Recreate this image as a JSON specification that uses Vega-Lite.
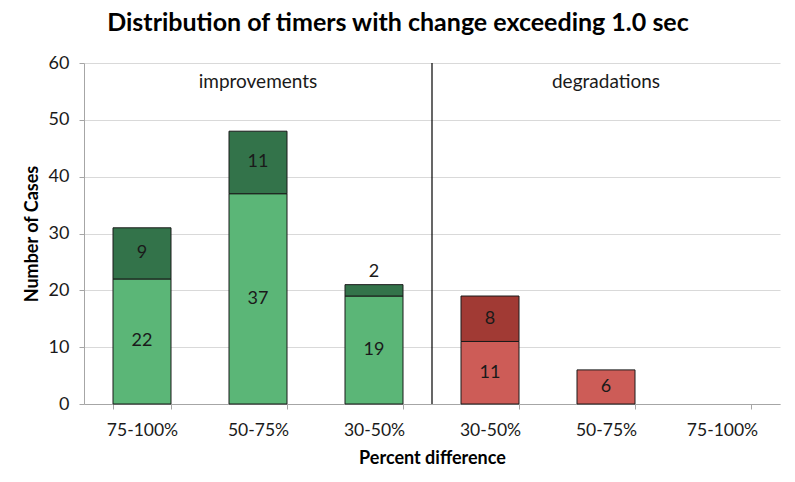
{
  "$schema": "https://vega.github.io/schema/vega-lite/v6.json",
  "width": 696,
  "height": 341,
  "autosize": "none",
  "padding": {"left": 84, "top": 63, "right": 15, "bottom": 78},
  "background": "white",
  "config": {
    "font": "Lato",
    "view": {"stroke": null}
  },
  "title": {
    "text": "Distribution of timers with change exceeding 1.0 sec",
    "fontSize": 25,
    "fontWeight": "bold",
    "color": "#000000",
    "anchor": "middle",
    "dx": -34,
    "offset": 18,
    "font": "Lato"
  },
  "datasets": {
    "bars": [
      {"cat": "1|75-100%", "part": "impr-lower", "order": 1, "value": 22},
      {"cat": "1|75-100%", "part": "impr-upper", "order": 2, "value": 9},
      {"cat": "2|50-75%", "part": "impr-lower", "order": 1, "value": 37},
      {"cat": "2|50-75%", "part": "impr-upper", "order": 2, "value": 11},
      {"cat": "3|30-50%", "part": "impr-lower", "order": 1, "value": 19},
      {"cat": "3|30-50%", "part": "impr-upper", "order": 2, "value": 2},
      {"cat": "4|30-50%", "part": "degr-lower", "order": 1, "value": 11},
      {"cat": "4|30-50%", "part": "degr-upper", "order": 2, "value": 8},
      {"cat": "5|50-75%", "part": "degr-lower", "order": 1, "value": 6}
    ],
    "groups": [
      {"cat": "2|50-75%", "name": "improvements"},
      {"cat": "5|50-75%", "name": "degradations"}
    ]
  },
  "encoding": {
    "x": {
      "field": "cat",
      "type": "nominal",
      "sort": ["1|75-100%", "2|50-75%", "3|30-50%", "4|30-50%", "5|50-75%", "6|75-100%"],
      "scale": {
        "domain": ["1|75-100%", "2|50-75%", "3|30-50%", "4|30-50%", "5|50-75%", "6|75-100%"],
        "paddingInner": 0.5,
        "paddingOuter": 0.25
      },
      "axis": {
        "title": "Percent difference",
        "titleFont": "Lato",
        "titleFontSize": 18,
        "titleFontWeight": "bold",
        "titleColor": "#000000",
        "titlePadding": 11,
        "labelExpr": "split(datum.value,'|')[1]",
        "labelAngle": 0,
        "labelFontSize": 17.5,
        "labelColor": "#1a1a1a",
        "labelPadding": 12,
        "tickBand": "extent",
        "tickSize": 5,
        "tickColor": "#A6A6A6",
        "domainColor": "#A6A6A6",
        "grid": false
      }
    }
  },
  "layer": [
    {
      "data": {"name": "bars"},
      "transform": [
        {"stack": "value", "groupby": ["cat"], "sort": [{"field": "order"}], "as": ["y0", "y1"]},
        {"calculate": "datum.value < 4 ? datum.y1 + 2.2 : (datum.y0 + datum.y1) / 2", "as": "labelY"}
      ],
      "layer": [
        {
          "mark": {"type": "bar", "stroke": "#1a1a1a", "strokeWidth": 1},
          "encoding": {
            "y": {
              "field": "y0",
              "type": "quantitative",
              "scale": {"domain": [0, 60]},
              "axis": {
                "title": "Number of Cases",
                "titleFont": "Lato",
                "titleFontSize": 18,
                "titleFontWeight": "bold",
                "titleColor": "#000000",
                "titlePadding": 7,
                "values": [0, 10, 20, 30, 40, 50, 60],
                "labelFontSize": 18,
                "labelColor": "#1a1a1a",
                "labelPadding": 10,
                "tickSize": 5,
                "tickColor": "#A6A6A6",
                "domainColor": "#A6A6A6",
                "gridColor": "#D9D9D9",
                "gridWidth": 1
              }
            },
            "y2": {"field": "y1"},
            "color": {
              "field": "part",
              "type": "nominal",
              "scale": {
                "domain": ["impr-lower", "impr-upper", "degr-lower", "degr-upper"],
                "range": ["#5BB677", "#33734A", "#CD5C57", "#A13A34"]
              },
              "legend": null
            }
          }
        },
        {
          "mark": {"type": "text", "fontSize": 18, "color": "#1a1a1a", "baseline": "middle"},
          "encoding": {
            "y": {"field": "labelY", "type": "quantitative"},
            "text": {"field": "value", "type": "quantitative"}
          }
        }
      ]
    },
    {
      "data": {"name": "groups"},
      "mark": {"type": "text", "fontSize": 19, "color": "#1a1a1a", "baseline": "middle"},
      "encoding": {
        "y": {"datum": 56.7, "type": "quantitative"},
        "text": {"field": "name"}
      }
    },
    {
      "data": {"values": [{"cat": "4|30-50%"}]},
      "mark": {"type": "rule", "color": "#000000", "strokeWidth": 1.2},
      "encoding": {
        "x": {"field": "cat", "type": "nominal", "bandPosition": -0.5}
      }
    }
  ]
}
